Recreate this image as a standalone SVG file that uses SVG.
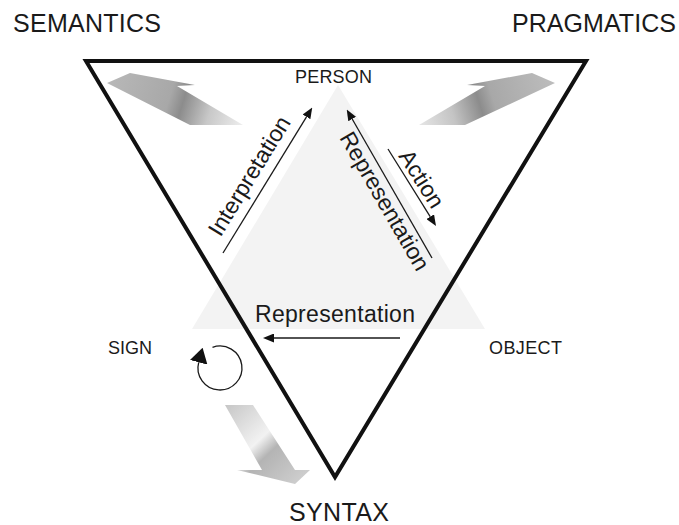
<svg xmlns="http://www.w3.org/2000/svg" width="679" height="525" viewBox="0 0 679 525">
<style>
  .big{font-family:"Liberation Sans",Arial,sans-serif;font-size:25px;fill:#1a1a1a}
  .node{font-family:"Liberation Sans",Arial,sans-serif;font-size:18px;fill:#1a1a1a}
  .lbl{font-family:"Liberation Sans",Arial,sans-serif;font-size:23px;fill:#1a1a1a}
  .conn{fill:none;stroke:#1a1a1a;stroke-width:1.3}
</style>
<defs>
  <marker id="ah" markerUnits="userSpaceOnUse" markerWidth="11" markerHeight="9" refX="0" refY="4.5" orient="auto" viewBox="0 0 11 9">
    <path d="M0,0 L11,4.5 L0,9 z" fill="#111"/>
  </marker>
  <marker id="ahBig" markerUnits="userSpaceOnUse" markerWidth="15" markerHeight="18" refX="0" refY="9" orient="auto" viewBox="0 0 15 18">
    <path d="M0,0 L15,9 L0,18 z" fill="#111"/>
  </marker>
  <linearGradient id="gTL" gradientUnits="userSpaceOnUse" x1="107" y1="83" x2="243" y2="125">
    <stop offset="0" stop-color="#b8b8b8"/>
    <stop offset="0.45" stop-color="#a8a8a8"/>
    <stop offset="0.55" stop-color="#8c8c8c"/>
    <stop offset="0.75" stop-color="#c8c8c8"/>
    <stop offset="1" stop-color="#eeeeee"/>
  </linearGradient>
  <linearGradient id="gTR" gradientUnits="userSpaceOnUse" x1="555" y1="83" x2="419" y2="125">
    <stop offset="0" stop-color="#bdbdbd"/>
    <stop offset="0.45" stop-color="#a8a8a8"/>
    <stop offset="0.55" stop-color="#8c8c8c"/>
    <stop offset="0.75" stop-color="#c4c4c4"/>
    <stop offset="1" stop-color="#e6e6e6"/>
  </linearGradient>
  <linearGradient id="gB" gradientUnits="userSpaceOnUse" x1="225" y1="405" x2="300" y2="484">
    <stop offset="0" stop-color="#c6c6c6"/>
    <stop offset="0.45" stop-color="#f2f2f2"/>
    <stop offset="0.6" stop-color="#b4b4b4"/>
    <stop offset="1" stop-color="#cfcfcf"/>
  </linearGradient>
</defs>

<g id="inner-triangle">
  <polygon points="338,85 485,329 192,329" fill="#f3f3f3"/>
</g>

<g id="flow-arrows">
  <polygon points="107,83 130,73 195,85 177,86 243,125 190,125" fill="url(#gTL)"/>
  <polygon points="555,83 532,73 467,85 485,86 419,125 465,125" fill="url(#gTR)"/>
  <polygon points="225,405 253,405 295,470 310,470 295,484 237,470 262,470" fill="url(#gB)"/>
</g>

<g id="outer-triangle">
  <polygon points="86,61 586,61 335,477" fill="none" stroke="#111" stroke-width="4" stroke-linejoin="miter"/>
</g>

<g id="connectors">
  <line class="conn" x1="223" y1="253" x2="306.5" y2="116.8" marker-end="url(#ah)"/>
  <line class="conn" x1="432" y1="258" x2="352.2" y2="119" marker-end="url(#ah)"/>
  <line class="conn" x1="388" y1="149" x2="430.2" y2="216.7" marker-end="url(#ah)"/>
  <line class="conn" x1="400" y1="338" x2="274" y2="338" marker-end="url(#ah)"/>
  <path class="conn" d="M212.5,347.3 A22,22 0 1 1 198.7,362.3" marker-end="url(#ahBig)"/>
</g>

<g id="semantics"><text class="big" x="13" y="32" textLength="148">SEMANTICS</text></g>
<g id="pragmatics"><text class="big" x="512" y="32" textLength="164">PRAGMATICS</text></g>
<g id="syntax"><text class="big" x="289" y="521" textLength="100">SYNTAX</text></g>

<g id="person"><text class="node" x="295" y="83" textLength="77">PERSON</text></g>
<g id="sign"><text class="node" x="108" y="354" textLength="44">SIGN</text></g>
<g id="object"><text class="node" x="489" y="354" textLength="73">OBJECT</text></g>

<g id="labels">
  <text class="lbl" text-anchor="middle" transform="translate(256,180) rotate(-58.5)">Interpretation</text>
  <text class="lbl" text-anchor="middle" transform="translate(378,205) rotate(60)">Representation</text>
  <text class="lbl" text-anchor="middle" transform="translate(415,183) rotate(58)">Action</text>
  <text class="lbl" x="255" y="322" textLength="160">Representation</text>
</g>
</svg>
